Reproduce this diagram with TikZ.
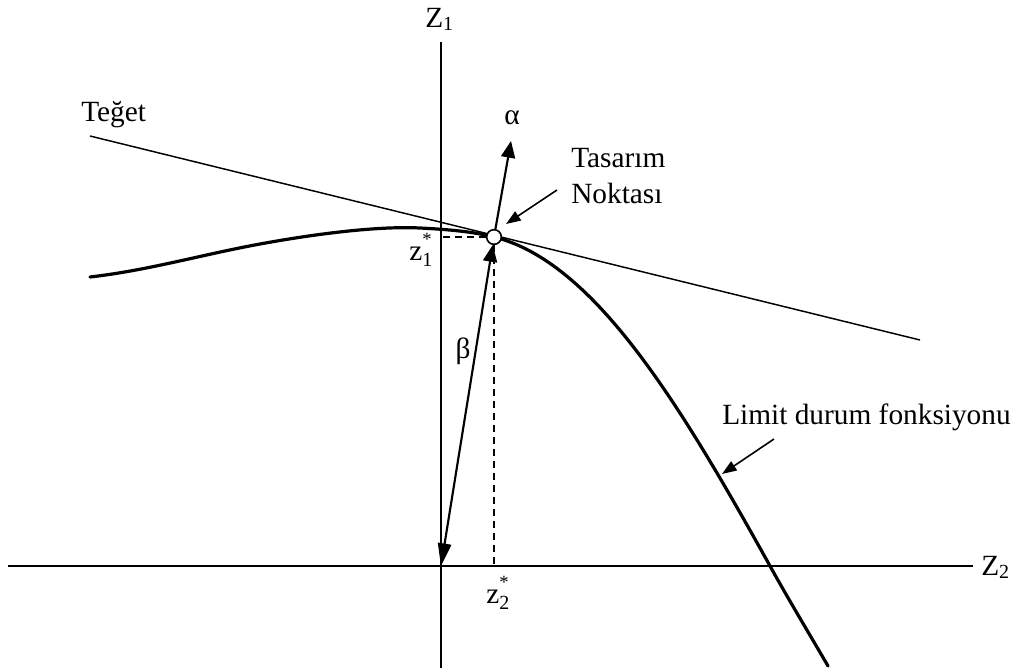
\documentclass[tikz,border=0pt]{standalone}
\usepackage{fontspec}
\setmainfont{Liberation Serif}
\usetikzlibrary{arrows.meta}
\newcommand\lowsub[1]{\raisebox{-0.28ex}{\fontsize{15}{15}\selectfont #1}}
\newcommand\zstar[1]{z\rlap{\raisebox{1.05ex}{\fontsize{14}{14}\selectfont *}}\raisebox{-0.5ex}{\fontsize{15}{15}\selectfont #1}}
\begin{document}
\begin{tikzpicture}[x=0.75pt,y=-0.75pt,
  lbl/.style={inner sep=0pt,font=\fontsize{22}{26}\selectfont},
  axis/.style={line width=1.3pt},
  tline/.style={line width=1.1pt},
  lsf/.style={line width=2.4pt,line join=round,line cap=round},
  bigarrow/.style={line width=1.6pt,-{Triangle[length=12.5pt,width=10.5pt]}},
  dbarrow/.style={line width=1.6pt,{Triangle[length=17pt,width=10pt]}-{Triangle[length=12.5pt,width=10.5pt]}},
  smallarrow/.style={line width=1.2pt,-{Triangle[length=11pt,width=8pt]}},
  dashline/.style={line width=1.1pt,dash pattern=on 5.5pt off 3.5pt}]
\useasboundingbox (0,0) rectangle (1016,668);
% axes
\coordinate (z1top) at (441,42);
\coordinate (z1bot) at (441,668);
\coordinate (z2left) at (8,566);
\coordinate (z2right) at (973,566);
\coordinate (O) at (441,566);
\draw[axis] (z1top) -- (z1bot);
\draw[axis] (z2left) -- (z2right);
\node[lbl,anchor=base west] (Z1) at (425,27) {Z\lowsub{1}};
\node[lbl,anchor=base west] (Z2) at (981,575) {Z\lowsub{2}};
% tangent
\coordinate (t1) at (90,136);
\coordinate (t2) at (920,340);
\draw[tline] (t1) -- (t2);
\node[lbl,anchor=base west] (teget) at (81,121) {Teğet};
% limit state curve
\draw[lsf] (90,277) .. controls (150,270) and (200,255) .. (260,244)
  .. controls (320,233) and (380,226) .. (420,228)
  .. controls (450,229.5) and (475,232) .. (494,237)
  .. controls (594,261.6) and (680,404) .. (770,566)
  .. controls (790,602) and (810,635) .. (828,666);
% design point
\node[circle,draw,fill=white,line width=1.2pt,minimum size=11pt,inner sep=0pt] (dp) at (494,237) {};
\coordinate (z1p) at (443,237);
\coordinate (z2p) at (494,566);
\draw[dashline] (dp.west) -- (z1p);
\draw[dashline] (dp.south) -- (z2p);
% alpha
\coordinate (atip) at (511,141);
\draw[bigarrow] (dp) -- (atip);
\node[lbl] (alpha) at (512,118) {α};
% beta
\draw[dbarrow] (O) -- (dp);
\node[lbl] (beta) at (463,351) {β};
% labels z*
\node[lbl,anchor=base west] (z1s) at (409,260) {\zstar{1}};
\node[lbl,anchor=base west] (z2s) at (486,603) {\zstar{2}};
% Tasarim Noktasi
\node[lbl,anchor=base west] (tas) at (571,167) {Tasarım};
\node[lbl,anchor=base west] (nok) at (571,203) {Noktası};
\coordinate (tasA) at (557,190);
\coordinate (tasB) at (506,224);
\draw[smallarrow] (tasA) -- (tasB);
% Limit durum
\node[lbl,anchor=base west] (lim) at (722,424) {Limit durum fonksiyonu};
\coordinate (limA) at (774,439);
\coordinate (limB) at (722,474);
\draw[smallarrow] (limA) -- (limB);
\end{tikzpicture}
\end{document}
